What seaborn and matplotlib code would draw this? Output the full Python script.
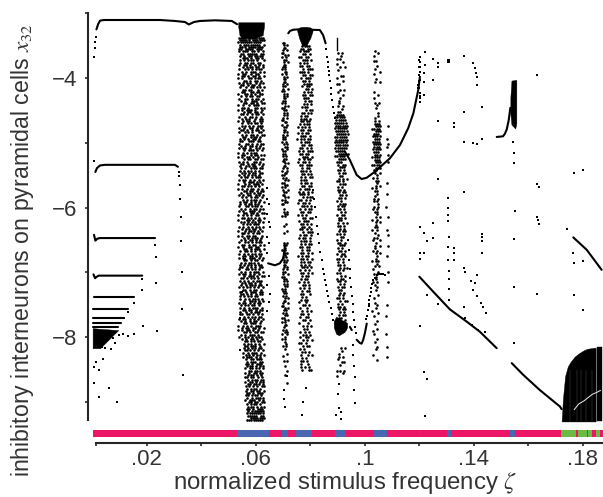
import matplotlib
matplotlib.use("Agg")
import matplotlib.pyplot as plt
import seaborn as sns

sns.set_style("white")
plt.rcParams['font.family'] = ['Liberation Sans', 'DejaVu Sans']
plt.rcParams['mathtext.fontset'] = 'stix'

# regime bar along the bottom
bar_edges = [.0002, .0532, .0649, .0696, .0718, .0747, .0806, .0891, .0931, .1033, .1082, .12, .1203,
             .1302, .1317, .1532, .1552, .172, .1775, .1782, .1799, .1801, .1816, .1819, .1833, .1848, .1863, .1874]
bar_regimes = ['r', 'b', 'r', 'b', 'r', 'b', 'r', 'b', 'r', 'b', 'r', 'b', 'r',
               'b', 'r', 'b', 'r', 'g', 'r', 'g', 'r', 'g', 'r', 'g', 'r', 'g', 'r']
regime_colors = {'r': '#ec1566', 'b': '#4a66b0', 'g': '#6cbb45'}

# solid branches (zeta, x32)
top_z = [.0015, .0021, .0028, .0043, .0138, .0248, .0303, .034, .0354, .0373, .0395, .045, .0512, .0531]
top_y = [-3.25, -3.17, -3.115, -3.105, -3.105, -3.105, -3.12, -3.136, -3.174, -3.136, -3.12, -3.11, -3.12, -3.17]
lev2_z = [.0011, .0017, .0028, .0046, .0303, .0314]
lev2_y = [-5.45, -5.39, -5.35, -5.34, -5.34, -5.37]
lev3_z = [.0006, .0011, .0018, .0028, .023]
lev3_y = [-6.42, -6.51, -6.48, -6.47, -6.47]
lev4_z = [.0004, .001, .0015, .0023, .0183]
lev4_y = [-7.03, -7.09, -7.07, -7.05, -7.05]
lev5_z = [.0005, .0015, .0153]
lev5_y = [-7.38, -7.38, -7.38]
lev6_z = [.0003, .0132]
lev6_y = [-7.565, -7.565]
lev7_z = [.0003, .0116]
lev7_y = [-7.7, -7.7]
lev8_z = [.0003, .0105]
lev8_y = [-7.78, -7.78]
lev9_z = [.0003, .0095]
lev9_y = [-7.85, -7.85]
hump_z = [.0645, .067, .0688, .0701, .0707]
hump_y = [-6.86, -6.89, -6.86, -6.78, -6.58]
arch_z = [.0719, .0725, .0737, .0756, .0835, .0847, .0856]
arch_y = [-3.31, -3.275, -3.255, -3.25, -3.26, -3.34, -3.465]
dip_z = [.0927, .0945, .097, .0988, .1007, .1037, .1092, .1129, .1159, .1178, .1196, .1202]
dip_y = [-5.137, -5.265, -5.497, -5.559, -5.539, -5.446, -5.239, -5.034, -4.776, -4.545, -4.185, -3.98]
vee_z = [.0945, .0952]
vee_y = [-7.84, -7.89]
vee2_z = [.097, .0982, .0988, .0994, .1, .1007]
vee2_y = [-8.04, -8.09, -8.1, -8.04, -7.94, -7.79]
fall1_z = [.12, .1251, .1312, .1374, .1422, .1484]
fall1_y = [-7.066, -7.298, -7.57, -7.76, -7.915, -8.17]
fall2_z = [.1539, .1581, .1642, .1716, .1722]
fall2_y = [-8.4, -8.58, -8.815, -9.07, -9.11]
hook_z = [.1484, .1507, .1514, .1521, .1528, .1534]
hook_y = [-4.91, -4.9, -4.86, -4.79, -4.65, -4.46]
edge_z = [.1765, .1814, .1869]
edge_y = [-6.46, -6.65, -6.96]
curves = [(top_z, top_y), (lev2_z, lev2_y), (lev3_z, lev3_y), (lev4_z, lev4_y), (lev5_z, lev5_y),
          (lev6_z, lev6_y), (lev7_z, lev7_y), (lev8_z, lev8_y), (lev9_z, lev9_y), (hump_z, hump_y),
          (arch_z, arch_y), (dip_z, dip_y), (vee_z, vee_y), (vee2_z, vee2_y), (fall1_z, fall1_y),
          (fall2_z, fall2_y), (hook_z, hook_y), (edge_z, edge_y)]

# solid black patches (zeta, upper, lower)
wedge = ([.0001, .0028, .0095], [-7.86, -7.87, -7.89], [-8.17, -8.17, -7.89])
a_top = ([.0535, .054, .055, .057, .06, .0625, .063], [-3.14] * 7, [-3.2, -3.34, -3.38, -3.38, -3.38, -3.34, -3.2])
c_top = ([.0752, .076, .077, .0785, .08, .0808], [-3.25, -3.22, -3.21, -3.21, -3.22, -3.25], [-3.28, -3.4, -3.5, -3.5, -3.38, -3.28])
d_top = ([.0897, .0903], [-3.38, -3.38], [-3.58, -3.58])
d_blob = ([.0886, .0895, .0905, .0925, .0935], [-7.75, -7.68, -7.72, -7.75, -7.78], [-7.85, -7.95, -7.97, -7.92, -7.85])
hook_bar = ([.1534, .1538, .1552, .1556], [-4.3, -4.04, -4.03, -4.03], [-4.55, -4.72, -4.78, -4.7])
chaos_z = [.1722, .1727, .1735, .1745, .1755, .177, .1785, .18, .1815, .183, .1847]
chaos_up = [-9.3, -8.95, -8.6, -8.45, -8.38, -8.3, -8.25, -8.21, -8.18, -8.17, -8.16]
chaos_lo = [-9.3] * 11
chaos2_z = [.1853, .1869]
chaos2_up = [-8.15, -8.15]
chaos2_lo = [-9.3, -9.3]
patches = [wedge, a_top, c_top, d_top, d_blob, hook_bar, (chaos_z, chaos_up, chaos_lo), (chaos2_z, chaos2_up, chaos2_lo)]

# pale streak and slits through the chaotic block
streak_z = [.1768, .1785, .1805, .182, .1835, .1852, .1865]
streak_y = [-9.12, -9.03, -8.98, -8.93, -8.88, -8.85, -8.82]
slits_z = [.1752, .1778, .1795, .1812, .1832]

# isolated points (zeta, x32)
dots_z = [.0006, .0008, .0011, .0013, .0319, .0319, .0323, .0323, .0326, .0326, .023, .0006,
          .0099, .0113, .0132, .0154, .0187, .0238, .0074, .0083, .0068, .0047, .0034, .004, .0013, .0007, .0023, .0005,
          .006, .0025, .0091, .0334, .033, .033, .0233, .0233, .0183, .0183, .0153, .013, .0117,
          .1221, .1202, .1202, .1202, .1202, .1202, .1196, .1196, .1202, .1202, .1202, .1218, .1218, .1218, .1221, .1251,
          .1267, .1267, .1251, .1306, .131, .1306, .131, .1365, .1398, .1404, .1408, .141, .1413, .1431, .1365, .1267,
          .1327, .1327, .1365, .1398, .141, .1431, .1542, .1549, .1549, .1633, .1633, .1638, .1768, .1802, .1267, .1365,
          .1306, .1306, .1306, .1306, .1251, .1202, .1218, .1227, .1251, .131, .1431, .1431, .1431, .1551, .1549,
          .1633, .1634, .1639, .1741, .1306, .1327,
          .1202, .1218, .1202, .1306, .1327, .1327, .131, .1365, .1369, .1413, .1388, .1404, .1398, .1413, .131, .131, .131,
          .1267, .1365, .1426, .1435, .1443, .1202, .1218, .1227, .1221, .1549, .1549, .1633, .1768, .1802, .1765, .1768, .1802,
          .1227, .1431, .1367, .1392, .1416, .144,
          .0859, .0862, .0864, .0866, .0868, .0869, .0872, .0875, .0877, .088, .0883, .0887, .089,
          .0811, .0814, .0817, .0821, .0825, .0829, .0833, .0837, .0841, .0845, .085, .0854, .0858, .0862, .0866, .087, .0875, .0879, .0884,
          .0957, .0957, .096, .0964, .0961, .0965, .0939, .0941, .0943, .0945, .0946, .0949, .0952, .0955, .0957, .096, .0964, .0967,
          .1009, .1012, .1014, .1017, .1019, .1021, .1024, .1027, .1031, .1037, .1043, .1049, .1055, .1062, .1068, .1074, .1005, .1014,
          .1198, .1199, .1199, .12, .12, .1201]
dots_y = [-3.68, -3.54, -3.44, -3.36, -5.45, -5.51, -5.65, -5.87, -6.14, -6.51, -6.58, -5.28,
          -7.97, -7.955, -7.98, -7.95, -7.83, -7.91, -8.01, -8.09, -8.18, -8.16, -8.15, -8.34, -8.38, -8.46, -8.5, -8.7,
          -8.79, -8.93, -9.0, -8.58, -7.56, -7.0, -7.17, -6.77, -7.27, -7.1, -7.47, -7.61, -7.71,
          -3.593, -3.67, -3.748, -3.825, -3.902, -4.03, -4.108, -4.159, -4.236, -4.303, -4.365, -4.262, -4.056, -3.928, -3.799, -3.712,
          -3.763, -3.835, -4.03, -3.722, -3.722, -3.76, -3.76, -3.66, -3.773, -3.851, -3.928, -3.989, -4.108, -4.442, -4.519, -4.658,
          -4.751, -4.7, -4.982, -5.008, -5.018, -4.941, -4.982, -5.162, -5.317, -3.959, -5.636, -5.687, -5.471, -5.419, -5.564, -5.754,
          -5.846, -6.0, -6.119, -6.212, -6.232, -6.304, -6.397, -6.51, -6.464, -6.448, -6.407, -6.459, -6.52, -6.047, -6.479,
          -6.14, -6.191, -6.253, -6.335, -6.613, -6.628,
          -6.705, -6.705, -6.793, -6.808, -6.808, -6.705, -6.973, -6.937, -6.999, -7.04, -7.127, -7.168, -7.271, -7.359, -7.107, -7.261, -7.426,
          -7.492, -7.528, -7.477, -7.539, -7.631, -7.827, -8.532, -8.645, -9.216, -7.23, -8.084, -7.333, -7.348, -7.58, -6.705, -6.86, -6.819,
          -7.35, -6.705, -7.709, -7.811, -7.889, -7.914,
          -3.55, -3.67, -3.75, -3.83, -3.89, -3.95, -4.05, -4.16, -4.25, -4.34, -4.44, -4.54, -4.62,
          -5.73, -5.86, -5.99, -6.14, -6.29, -6.4, -6.55, -6.68, -6.81, -6.95, -7.03, -7.12, -7.2, -7.29, -7.37, -7.46, -7.55, -7.64, -7.73,
          -8.12, -8.27, -8.44, -8.62, -8.81, -9.02, -6.5, -6.66, -6.81, -6.95, -7.09, -7.23, -7.37, -7.49, -7.61, -7.73, -7.84, -7.94,
          -7.68, -7.58, -7.48, -7.42, -7.37, -7.3, -7.24, -7.18, -7.12, -7.08, -7.04, -7.02, -7.02, -7.03, -7.03, -7.04, -7.72, -7.52,
          -3.72, -3.83, -3.95, -4.05, -4.15, -4.28]

# scattered clouds: occupancy, rows from top to bottom of the x32 span, one column per zeta value
cloud_a_z = [.0538, .0546, .0554, .0562, .057, .0578, .0586, .0594, .0602, .061, .0618, .0626]
cloud_a_span = (-3.38, -9.28)
cloud_a = """
xxxxxxxxxxxx xxxxx.xxxxxx xxxxxxxxxxx. x.xxxxxxxx.x .xxx.xxxxxxx xx.xxxx.xxx. x.xxx.xx.x.x .xx.xxxxx.xx x.x.xx.xxxx.
..xxx.x.xx.x x.x.xxx.x..x .x.xx.xx.xx. x.xx.x.x.x.x ..x.xxx.xx.x x..xx.x.xxx. .x.x.xxx.x.x x.xx..x.xx.. .xx.x.xx.x.x
x.x..xx.xxx. ..xx.x.xx.x. x.x.xx..x.xx .xx.x.xx.x.. x..x.xx.xx.x ..xx.xx..x.x .xx..xx.xx.. x..xx.x.x.xx .x.x.xx.xx..
x..xx.x.xx.x .x.x..xxx.x. ..xx.xx.x.xx x.x..x.xxx.. .xx.x..xx.xx x.x.xxx.x..x ..x.xx.xx.x. .xx.x.x.xx.x x..x.xx.x.x.
.x.xx..x.xx. x.x.xx.x..xx .x..xx.xx.x. ..xx.x.x.xxx x.x..xx.x.x. .xx.x.x.xx.x x..xx.x..xx. .x.x.xx.x.xx ..xx..xxx.x.
x.x.x.xx.x.. .xx..xxx.xx. x..xx.x.x.xx .x.x.xx.x.x. x.xx.x..xx.x ..x.xxx.x.x. x.x.x.xxx... .xx..x.xx.xx x.x.xx.x.x..
..x.xx.xx.xx x.x.x..xx.x. .xx.x.xx.x.x x..xx.xx..x. .x.x..xxx.xx x.x.xx.x.x.. ..xx.x.xx.xx x.x.x.xx.x.. .x.xx.x.xxx.
x.xx.x.x.x.x ..x.xxx.xx.. x..x.x.xxx.x .xx.xx.x.x.. x.x.x.xx.x.x ..xx.xx.x.xx .x..xx.x.xx. x.x.xx..xx.x .x.x.x.xx.x.
..x.x.xxx.x. x.xx.x.x.x.x .x.x.xx.xx.. x..xx.xxx.x. .x.x.x.xx.xx x.x..xxx.x.. ..xx.xx.x.xx x.x.x.x.xx.. .xx.xx.x.x.x
x...xx.x.xx. .xx.x.xx.x.x ..x.xx.xxx.. x.x.x.x.xx.x .x.xx.xx.x.. x..x.xxx.x.x .xx.x.x.xx.. x.x.xx.xx..x ..x.x.xxx.x.
.x.x.xx.x.x. x..xx.x.xxx. .xx.x.xx.x.x x.x..xx.xx.. ..xx.x.xxx.x .x.xx.x.x.x. x.x.x.xx.xx. ..xx.xx.x.x. x.x..xxx.x.x
..xx.x.xx.x. .x.x.xxx.x.. x.x.xx.x.xx. .xx.x.x.x.xx x..xx.xx.x.. .x.x.x.xxx.x x.xx.x.x.x.. ..x.xxx.x.xx .xx.x.xx.x..
x.x.x.x.xxx. ..xx.xx.x.x. .x.x.xxx.xx. x.x.xx.x.x.x ..xx.x.xx.x. x..x.xxx.xx. .xx.x.x.x.xx x.x.xx.xx... .x.x.x.xxx.x
..x..xxx.x.x x.xx.x.x.xx. .x.xx.xx.x.. x.x.x.xxx.x. ..xx.xx.x.xx x..x.x.xxx.. .xx.xx.x.x.x ..x.x.xx.xx. x.xx.x.x.x.x
.x.x.x.xx.x. ..xx.xxx.x.. x.x.x.x.xxx. .x.xx.xx.x.x x.x.xx.x.x.. ..xx.x.xx.xx .x.x.xxx.x.. x..xx.x.xxx. .x.x.xx.x.x.
...xx.xx.xx. ..x.xx.x.x.x ...xx.xxx.x. ..x.x.xx.xx. ...xxx.x.x.x ..x.x.xxx.x. ...xx.x.xx.x ..x.xxx.x.x. ...x.xx.xxx.
....x.xxx.xx ...xx.x.xxx. ....xxx.x.xx ...x.xx.xx.x ....xx.xxx.. ...x.x.xx.xx ....xxx.x.x. ...xx.xx.x.x ....x.xxx.xx
...x.xx.x.xx ....xx.xxx.x ...xx.x.x.xx ....x.xxx.x. ...x.xx.xx.x ....xx.x.xxx ...xx.xxx.x. ....x.x.xxxx ...x.xxx.x.x
....xx.xx.xx ....x.xxx.x. ....xxx.x.xx ....xx.x.xxx ....x.xxxxxx ....xxxxxxxx ....xxxxx.xx .....xxxxxxx ....xxxxxxxx
""".split()
cloud_b_z = [.0698, .0704, .071, .0716]
cloud_b_span = (-3.46, -8.7)
cloud_b = """
xx.. x.x. .xx. x.x. xx.. .x.x x.x. .xx. x..x .xx. xx.. x.x. .xx. x.x. .x.x xx.. .xx. x.x. .xx. x..x xx.. .x.x x.x. .xx.
xx.. x.x. .x.x xx.. .xx. x.x. .x.x x.x. xx.. .xx. x..x .xx. xx.. .x.x x.x. .xx. xx.. x.x. .x.x .xx. x..x xx.. .xx. x.x.
.xx. xx.. .x.x .xx. x.x. x..x .xx. xx.. x.x. .x.x xx.. .xx. x.x. x..x .xx. xx.. .x.x x.x. .xx. xx.. .... .x.. .x.x .xx.
x.x. .... .... ..x. .x.. .... ..x. .x.. .... .... .... .x.x .xx. .x.. x.x. .xx. ..x. x.x. .x.x .xx. xx.. .x.x x.x. .xx.
x..x xx.. .xx. x.x. .x.x .xx. x.x. xx.. .xx. x.x. .x.x .xx. x..x xx.. .x.x .xx. x.x. .xx. xx.. .x.x x.x. .xx. .x.. x.x.
.xx. x..x .x.. x.x. .x.. ..x. x.x. .x.. .... ..x. .x.. .... .x.x .... .x.. .... ..x. .... .x.. .... .... ..x.
""".split()
cloud_c_z = [.0755, .0763, .0771, .0779, .0787, .0795, .0803]
cloud_c_span = (-3.5, -8.5)
cloud_c = """
..xxxx. .xx.xx. .x.xxx. ..xx.x. .xx.xx. ..xxx.x .x.xx.. .xx.xx. ..x.xxx .xxx.x. ..xx.xx ..x.xxx ..xx.x. ...xxxx ..x.xx. ...xx.x
...x.xx ..xx.xx ...xxx. ...x.xx ...xx.x ..xxx.. ...x.xx ..xx.xx .x.xx.. ..xxx.x .xx.xx. .x.xxx. x.xx.x. .xx.xx. x.x.xx. .xxx.x.
x.xx.xx .x.xxx. ..xx.xx .xx.x.x x.x.xxx .xx.xx. ..xxx.x .x.x.xx x.xx.x. .xx.xxx ..x.xx. .xxx.x. ..xx.xx .x.x.xx ..xxx.. .x.xx.x
..xx.xx .x.xxx. x.x.x.x .xxx.x. ..x.xxx .xx.x.x x.xx.x. ..xxx.x .x.x.xx .xx.xx. x.x.x.. ..xx.xx .x.xxx. .xx.x.x ..xx.x. .xx.x.x
..x.xxx .x.xx.x x.xx.x. ..xxx.x .x.x.xx .xx.xx. ..x.xx. .xx.x.x x.x.xx. .xx.x.x ..xx.xx .x.x.x. ..xxx.x .x.x.x. .xx.x.x ..x.xx.
.x.xx.. .x.x.x. ..xx.x. .x.x.x. ..x.xx. .xx..x. ..x.x.. .x.xx.. .x..x.. ..xx.x. .x..x.. ..x.x.x .xx.x.. .x..xx. ..xx.x. .x...x.
..x.x.x ...xx.. .x.x.x. ..xx.x. .x..xx. ..x.x.x .xx.x.. ..x.xx. .x.x... ..xx.x. .x..x.x ..x.x.. .xx.x.. ..x..x. .x.x.x. ..x..xx
""".split()
cloud_d_z = [.0893, .0901, .0909, .0917, .0925, .0933]
cloud_d_span = (-3.62, -8.6)
cloud_d = """
.x.x.. ..x... .xx... ...x.. .x.... ..x.x. .x.... ...... ..xx.. .x.... ...x.. .xx... ...... ..x.x. .x.... ...x.. ..x... .x.... ..x... .x.x.. ...x.. .xx...
xxxx.. xxxxx. xxxxx. xxxxxx xxxxxx xxxxxx xxxxxx xxxxxx xxxxxx xxxxxx xxxxxx xxxxxx xxxxxx xxxxx. .xxxxx xxxxx. .xxxx. .xxx..
.x.xx. ..xxx. .xx.x. .x.xx. ..xx.. .x.x.x .xx.x. ..xxx. .x.x.. .xx.x. .x.xx. ..xx.x .xx.x. .x.x.. ..xxx. .x.xx. .xx.x. ..x.x.
.x.xx. .xx.x. ..xx.. .x.x.x .xx.x. ..x.x. .x.xx. .xx.x. ..xx.. .x.x.. .xx.x. ..xxx. .x.x.. .xx.x. .x.xx. ..x.x. .xx.x. .x.x..
.xx.x. ..x.xx .x.x.. .xx... ..x.x. .x.xx. .xx.x. ..x.x. .x.xx. .xx... ..x.x. .x.x.. .xx.x. ..x.xx .x.x.. .xx.x. .x.xx. ..x.x.
.x.xx. ..xx.. .xx.x. ..x.x. .x.xx.
.xxxx. ...... ...... ...... ...... ...... ...... ..x.x. ...x.. .x.... ..x.x. .x.... ...xx. ..x... ...... .xx.x. ...x.. .x....
""".split()
cloud_e_z = [.1029, .1037, .1045, .1053, .1082]
cloud_e_span = (-3.58, -8.35)
cloud_e = """
.x... ..x.. .x... ..... .xx.. ..... ..x.. .x... ...x. .x... ..... ..x.. .x.x. ..... ..... ..... .x... ..x.. .x... ..... .x.x. ..x.. .x... ..... ..x.. ...x. .x... .x.x.
.xxx. .xxxx xxxx. .xxx. .xxx. xxxx. .xxxx xxxx. xxxxx .xxxx xxxx. .xxx. .xxxx xxxx. .xxx. .xxxx xxxx. .xxx. .xx..
.x.x. ..x.. x.x.. .xx.. ..x.x .x.x. x.x.. .xx.. ..x.x .x... x.x.. .xx.. ..x.. .x.xx x.x.. .xx.. ..x.. .x.xx x.x.. .x.x. ..x.. .xx.. x.x.x .x... ..x.x
.xx.. x..x. ..x.. .x.xx .x... x.x.. .x.x. ..x.x .x... x.xx. ..x.. .x.x. x.... ..x.x .xx.. .x... ..x.. x.x.x .x... ..x.. .x... ..... ..x.. .x... .....
.x... ..x.x .x... x.... ..x.. .x..x ..... ..x.. .x... ...... ..x.. x.... .x..x ..... ..x.. .x... ..... ..x.x .x... ..... x.... ....x ..x..
""".split()
clouds = [(cloud_a_z, cloud_a_span, cloud_a), (cloud_b_z, cloud_b_span, cloud_b), (cloud_c_z, cloud_c_span, cloud_c),
          (cloud_d_z, cloud_d_span, cloud_d), (cloud_e_z, cloud_e_span, cloud_e)]
# cell offsets per row, so the occupancy cells do not draw as a lattice
row_shift = [0, .00035, -.0002, .00025, -.00035, .00012, -.0001]

# sparse strip right of the first cloud, and strays under the clouds
stray_z = [.0642, .0642, .0648, .0642, .0648, .0652, .0642, .0648, .0642, .0648, .0642, .0652, .0648, .0642,
           .0554, .0562, .0549, .0542, .0542, .0702, .0705, .0708, .0716, .0785, .0772, .0768, .0905, .09, .0906, .0914, .0893, .0914]
stray_y = [-5.7, -5.86, -5.95, -6.1, -6.22, -6.3, -6.45, -6.55, -6.7, -7.05, -7.2, -7.34, -7.45, -7.6,
           -6.4, -6.8, -7.3, -7.7, -8.2, -8.82, -8.95, -9.08, -8.6, -8.78, -9.0, -9.2, -8.72, -8.88, -9.1, -9.16, -9.2, -9.26]


def cloud_points(cols, span, rows):
    step = (span[1] - span[0]) / (len(rows) - 1)
    xx, yy = [], []
    for i, row in enumerate(rows):
        for z, c in zip(cols, row):
            if c == 'x':
                xx.append(z + row_shift[i % len(row_shift)])
                yy.append(span[0] + i * step)
    return xx, yy


fig = plt.figure(figsize=(6.03, 4.97), dpi=100)
ax = fig.add_axes([88 / 603, 1 - 442.7 / 497, 515 / 603, 429.7 / 497])

ax.set_xlim(-.0016, .1874)
ax.set_ylim(-9.628, -2.997)

for z, up, lo in patches:
    ax.fill_between(z, lo, up, color='k', linewidth=0.3)

for z, y in curves:
    sns.lineplot(x=z, y=y, color='k', linewidth=1.5, sort=False, estimator=None, ax=ax, legend=False)

for cols, span, rows in clouds:
    cx, cy = cloud_points(cols, span, rows)
    sns.scatterplot(x=cx, y=cy, color='k', marker='o', s=3.6, linewidth=0, ax=ax, legend=False)

sns.scatterplot(x=dots_z + stray_z, y=dots_y + stray_y, color='k', marker='s', s=3.2, linewidth=0, ax=ax, legend=False)
ax.vlines(slits_z, -9.3, -8.5, color='#555555', linewidth=0.3)
sns.lineplot(x=streak_z, y=streak_y, color='#eeeeee', linewidth=0.7, estimator=None, ax=ax, legend=False)

# regime bar
for i, reg in enumerate(bar_regimes):
    ax.barh(-9.486, bar_edges[i + 1] - bar_edges[i], left=bar_edges[i], height=.108,
            color=regime_colors[reg], linewidth=0)

ax.spines['top'].set_visible(False)
ax.spines['right'].set_visible(False)
ax.spines['left'].set_bounds(-9.28, -3)
ax.spines['bottom'].set_bounds(.0012, .1874)
ax.spines['left'].set_linewidth(1.5)
ax.spines['bottom'].set_linewidth(1.5)

text_col = '#333333'
ax.set_yticks([-9, -8, -7, -6, -5, -4, -3], ['', '\u22128', '', '\u22126', '', '\u22124', ''])
ax.set_xticks([.0012, .02, .04, .06, .08, .1, .12, .14, .16, .18], ['', '.02', '', '.06', '', '.1', '', '.14', '', '.18'])
ax.tick_params(left=True, bottom=True, length=2.5, width=1.2, labelsize=16, labelcolor=text_col, pad=2)
ax.tick_params(axis='y', pad=5)

ax.set_xlabel('normalized stimulus frequency $\\zeta$', fontsize=17.3, color=text_col, labelpad=0)
ax.set_ylabel('inhibitory interneurons on pyramidal cells $x_{32}$', fontsize=16.7, color=text_col)
ax.yaxis.set_label_coords(-.101, .448)

fig.savefig('out.png', dpi=100)
